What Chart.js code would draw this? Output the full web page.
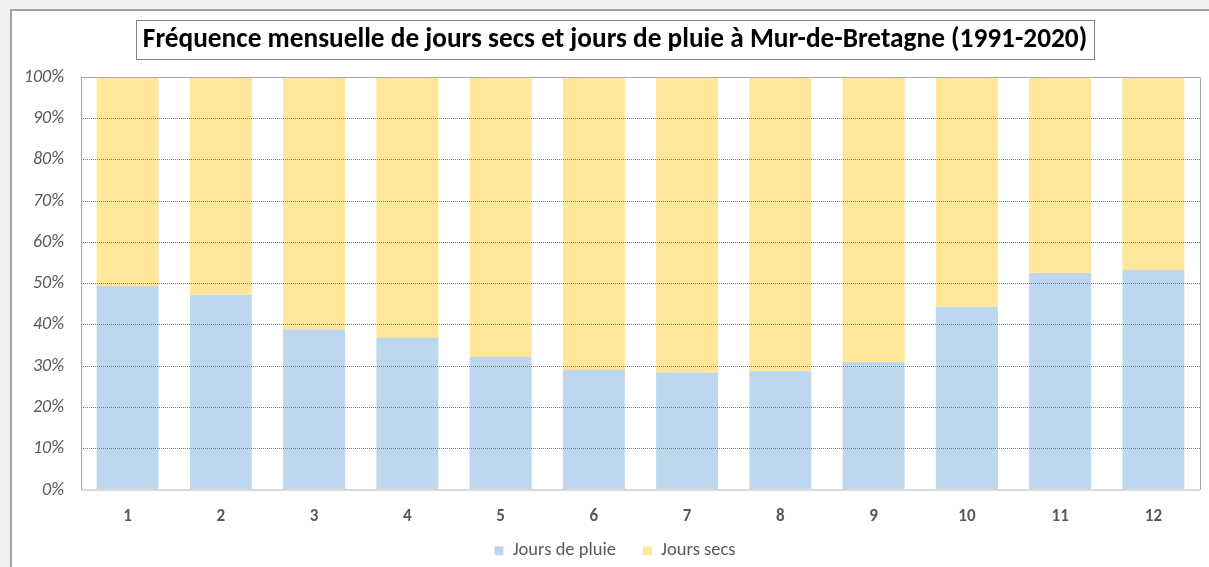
<!DOCTYPE html>
<html><head><meta charset="utf-8">
<script src="https://cdn.jsdelivr.net/npm/chart.js@4.4.1/dist/chart.umd.min.js"></script>
<style>html,body{margin:0;padding:0;overflow:hidden;background:#f0f0f0}#wrap{width:1209px;height:600px;position:relative}</style>
</head><body><div id="wrap"><canvas id="c" width="1209" height="600"></canvas></div>
<script>
const categories = ['1','2','3','4','5','6','7','8','9','10','11','12'];
const joursPluie = [49.4, 47.3, 38.9, 36.9, 32.2, 29.1, 28.4, 28.8, 31.0, 44.4, 52.6, 53.3];
const joursSecs  = [50.6, 52.7, 61.1, 63.1, 67.8, 70.9, 71.6, 71.2, 69.0, 55.6, 47.4, 46.7];
const seriesNames = ['Jours de pluie', 'Jours secs'];
const titleText = 'Fréquence mensuelle de jours secs et jours de pluie à Mur-de-Bretagne (1991-2020)';

const FONT = 'Carlito, "Liberation Sans Narrow", "DejaVu Sans Condensed", sans-serif';
const TITLE_SIZE = 27.3;
const TITLE_FONT = {family: FONT, size: TITLE_SIZE, weight: 'bold', lineHeight: 1.2};

const framePlugin = {
  id: 'frame',
  afterLayout(chart) {
    // widen label clip areas so tick labels are not cut
    chart.scales.y.left = 12;
    chart.scales.x.bottom = 545;
  },
  beforeDraw(chart) {
    const ctx = chart.ctx;
    ctx.save();
    ctx.fillStyle = '#f0f0f0';
    ctx.fillRect(0, 0, chart.width, chart.height);
    ctx.fillStyle = '#ffffff';
    ctx.fillRect(12, 11, chart.width - 12, chart.height - 11);
    ctx.fillStyle = '#a0a0a0';
    ctx.fillRect(10, 9, chart.width - 10, 2);
    ctx.fillRect(10, 9, 2, chart.height - 9);
    ctx.restore();
  },
  afterDraw(chart) {
    const ctx = chart.ctx;
    const a = chart.chartArea;
    ctx.save();
    ctx.strokeStyle = '#a6a6a6';
    ctx.lineWidth = 1;
    ctx.beginPath();
    ctx.moveTo(Math.round(a.left) + 0.5, Math.round(a.bottom));
    ctx.lineTo(Math.round(a.left) + 0.5, Math.round(a.top) + 0.5);
    ctx.lineTo(Math.round(a.right) + 0.5, Math.round(a.top) + 0.5);
    ctx.lineTo(Math.round(a.right) + 0.5, Math.round(a.bottom));
    ctx.stroke();
    ctx.strokeStyle = '#d9d9d9';
    ctx.lineWidth = 2;
    ctx.beginPath();
    ctx.moveTo(a.left + 1, Math.round(a.bottom));
    ctx.lineTo(a.right, Math.round(a.bottom));
    ctx.stroke();
    const tb = chart.titleBlock;
    ctx.font = 'bold ' + TITLE_SIZE + 'px ' + FONT;
    const w = ctx.measureText(titleText).width;
    const cx = (tb.left + tb.right) / 2;
    const cy = tb.top + tb.options.padding.top + TITLE_SIZE * 0.6;
    ctx.strokeStyle = '#7f7f7f';
    ctx.lineWidth = 1;
    ctx.strokeRect(Math.round(cx - w / 2 - 7) + 0.5, Math.round(cy - 20) + 0.5, Math.round(w + 14), 39);
    ctx.restore();
  }
};

new Chart(document.getElementById('c'), {
  type: 'bar',
  data: {
    labels: categories,
    datasets: [
      {label: seriesNames[0], data: joursPluie, backgroundColor: '#bdd7ee', borderWidth: 0},
      {label: seriesNames[1], data: joursSecs, backgroundColor: '#ffe699', borderWidth: 0}
    ]
  },
  options: {
    responsive: false,
    animation: false,
    devicePixelRatio: 1,
    datasets: {bar: {categoryPercentage: 1, barPercentage: 0.665}},
    layout: {padding: {left: 30, right: 9, top: 0, bottom: 30}},
    plugins: {
      title: {
        display: true, text: titleText, color: '#000000', font: TITLE_FONT,
        padding: {top: 24, bottom: 20.5}
      },
      legend: {
        position: 'bottom',
        labels: {
          color: '#595959', font: {family: FONT, size: 18.5},
          boxWidth: 9, boxHeight: 9, padding: 27
        }
      },
      tooltip: {enabled: false}
    },
    scales: {
      x: {
        stacked: true,
        grid: {display: false, drawTicks: false},
        border: {display: false},
        ticks: {color: '#595959', font: {family: FONT, size: 17, weight: 'bold'}, padding: 17},
        afterFit(s) { s.height = 24.5; }
      },
      y: {
        stacked: true, min: 0, max: 100,
        grid: {color: '#7a7a7a', drawTicks: false, z: 1, lineWidth: (c) => c.tick.value === 0 ? 0 : 1},
        border: {display: false, dash: [1, 1]},
        ticks: {
          stepSize: 10, color: '#595959', padding: 17,
          font: {family: FONT, size: 18, style: 'italic'},
          callback: (v) => v + '%'
        },
        afterFit(s) { s.width = 51; }
      }
    }
  },
  plugins: [framePlugin]
});
</script>
</body></html>
